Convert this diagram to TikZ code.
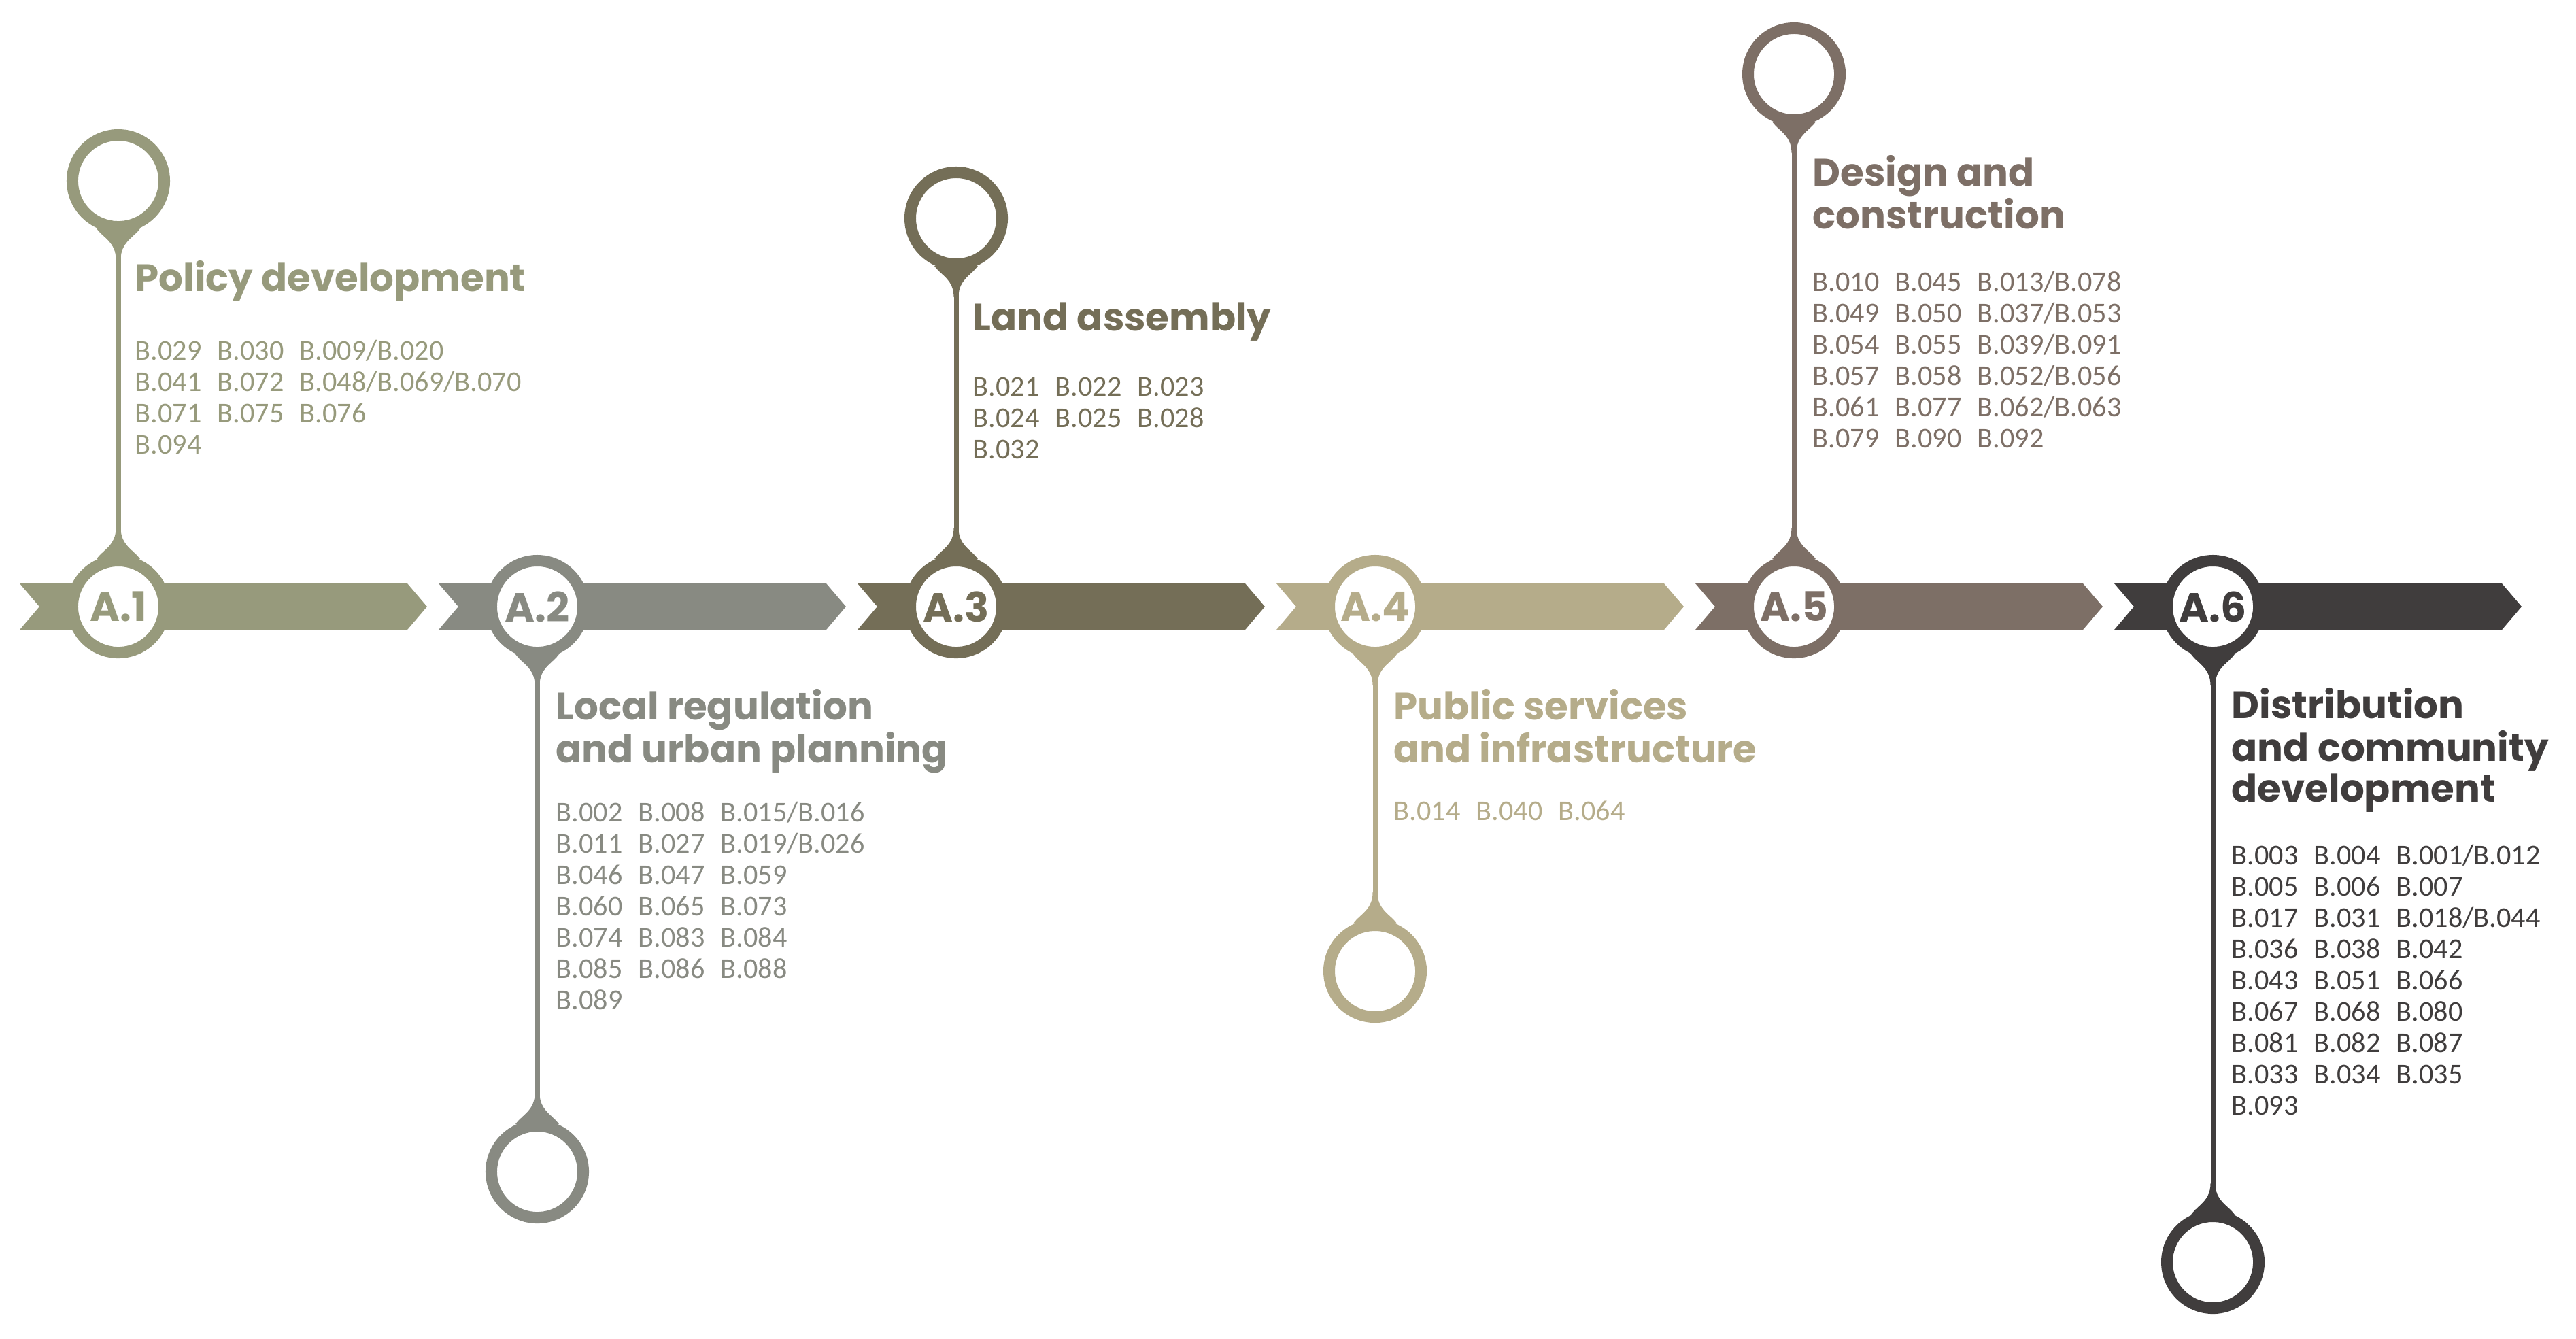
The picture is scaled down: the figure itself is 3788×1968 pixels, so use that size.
\documentclass[tikz,border=0pt]{standalone}
\usepackage{fontspec}
\newfontfamily\titlefont{Poppins}[UprightFont=* Bold]
\newfontfamily\codefont{Carlito}
\definecolor{cA}{HTML}{979A7C}
\definecolor{cB}{HTML}{888A82}
\definecolor{cC}{HTML}{746E57}
\definecolor{cD}{HTML}{B5AC8A}
\definecolor{cE}{HTML}{7D6F66}
\definecolor{cF}{HTML}{403D3D}
\newcommand\cds[3]{\makebox[1.21cm][l]{#1}\makebox[1.21cm][l]{#2}#3}
\newcommand\blk[1]{\begin{tabular}[t]{@{}l@{}}#1\end{tabular}}
\tikzset{
  ring/.style={circle,draw=#1,line width=0.17cm,fill=white,minimum size=1.35cm,inner sep=0pt,text=#1,font=\titlefont\fontsize{17}{17}\selectfont},
  pinc/.style={circle,draw=#1,line width=0.17cm,fill=white,minimum size=1.35cm,inner sep=0pt},
  stem/.style={draw=#1,line width=0.07cm},
  ttl/.style={anchor=base west,inner sep=0pt,text=#1,font=\titlefont\fontsize{16}{17.07}\selectfont},
  codes/.style={anchor=base west,inner sep=0pt,text=#1,font=\codefont\fontsize{12}{13.09}\selectfont},
  pics/drop/.style={code={\fill[#1] (-3.5,-40) .. controls (-3.5,-14) and (-22,-8) .. (-32,6) -- (32,6) .. controls (22,-8) and (3.5,-14) .. (3.5,-40) -- cycle;}}
}
\begin{document}
\begin{tikzpicture}[x=0.01cm,y=-0.01cm]
\useasboundingbox (0,0) rectangle (3788,1968);
% band segments
\foreach \cx/\col in {174/cA,790/cB,1406/cC,2022/cD,2638/cE,3254/cF}{
  \fill[\col] (\cx-145,858) -- (\cx+425,858) -- (\cx+454,892) -- (\cx+425,926) -- (\cx-145,926) -- (\cx-116,892) -- cycle;
}
% nodes
\node[ring=cA] (c1) at (174,892) {A.1};
\node[ring=cB] (c2) at (790,892) {A.2};
\node[ring=cC] (c3) at (1406,892) {A.3};
\node[ring=cD] (c4) at (2022,892) {A.4};
\node[ring=cE] (c5) at (2638,892) {A.5};
\node[ring=cF] (c6) at (3254,892) {A.6};
\node[pinc=cA] (p1) at (174,266) {};
\node[pinc=cB] (p2) at (790,1723) {};
\node[pinc=cC] (p3) at (1406,321) {};
\node[pinc=cD] (p4) at (2022,1428) {};
\node[pinc=cE] (p5) at (2638,109) {};
\node[pinc=cF] (p6) at (3254,1856) {};
% stems
\foreach \i/\col/\d in {1/cA/1,2/cB/-1,3/cC/1,4/cD/-1,5/cE/1,6/cF/-1}{
  \draw[stem=\col] (c\i) -- (p\i);
  \path (c\i.center) ++(0,-76*\d) pic[yscale=\d] {drop=\col};
  \path (p\i.center) ++(0,76*\d) pic[yscale=-\d] {drop=\col};
}
% titles
\node[ttl=cA] (t1) at (198,428) {Policy development};
\node[ttl=cB] (t2) at (817,1058) {\blk{Local regulation\\and urban planning}};
\node[ttl=cC] (t3) at (1430,486) {Land assembly};
\node[ttl=cD] (t4) at (2049,1058) {\blk{Public services\\and infrastructure}};
\node[ttl=cE] (t5) at (2665,273) {\blk{Design and\\construction}};
\node[ttl=cF] (t6) at (3281,1056) {\blk{Distribution\\and community\\development}};
% codes
\node[codes=cA] (b1) at (198,529) {\blk{\cds{B.029}{B.030}{B.009/B.020}\\\cds{B.041}{B.072}{B.048/B.069/B.070}\\\cds{B.071}{B.075}{B.076}\\B.094}};
\node[codes=cB] (b2) at (817,1208) {\blk{\cds{B.002}{B.008}{B.015/B.016}\\\cds{B.011}{B.027}{B.019/B.026}\\\cds{B.046}{B.047}{B.059}\\\cds{B.060}{B.065}{B.073}\\\cds{B.074}{B.083}{B.084}\\\cds{B.085}{B.086}{B.088}\\B.089}};
\node[codes=cC] (b3) at (1430,582) {\blk{\cds{B.021}{B.022}{B.023}\\\cds{B.024}{B.025}{B.028}\\B.032}};
\node[codes=cD] (b4) at (2049,1206) {\cds{B.014}{B.040}{B.064}};
\node[codes=cE] (b5) at (2665,428) {\blk{\cds{B.010}{B.045}{B.013/B.078}\\\cds{B.049}{B.050}{B.037/B.053}\\\cds{B.054}{B.055}{B.039/B.091}\\\cds{B.057}{B.058}{B.052/B.056}\\\cds{B.061}{B.077}{B.062/B.063}\\\cds{B.079}{B.090}{B.092}}};
\node[codes=cF] (b6) at (3281,1271) {\blk{\cds{B.003}{B.004}{B.001/B.012}\\\cds{B.005}{B.006}{B.007}\\\cds{B.017}{B.031}{B.018/B.044}\\\cds{B.036}{B.038}{B.042}\\\cds{B.043}{B.051}{B.066}\\\cds{B.067}{B.068}{B.080}\\\cds{B.081}{B.082}{B.087}\\\cds{B.033}{B.034}{B.035}\\B.093}};
\end{tikzpicture}
\end{document}
